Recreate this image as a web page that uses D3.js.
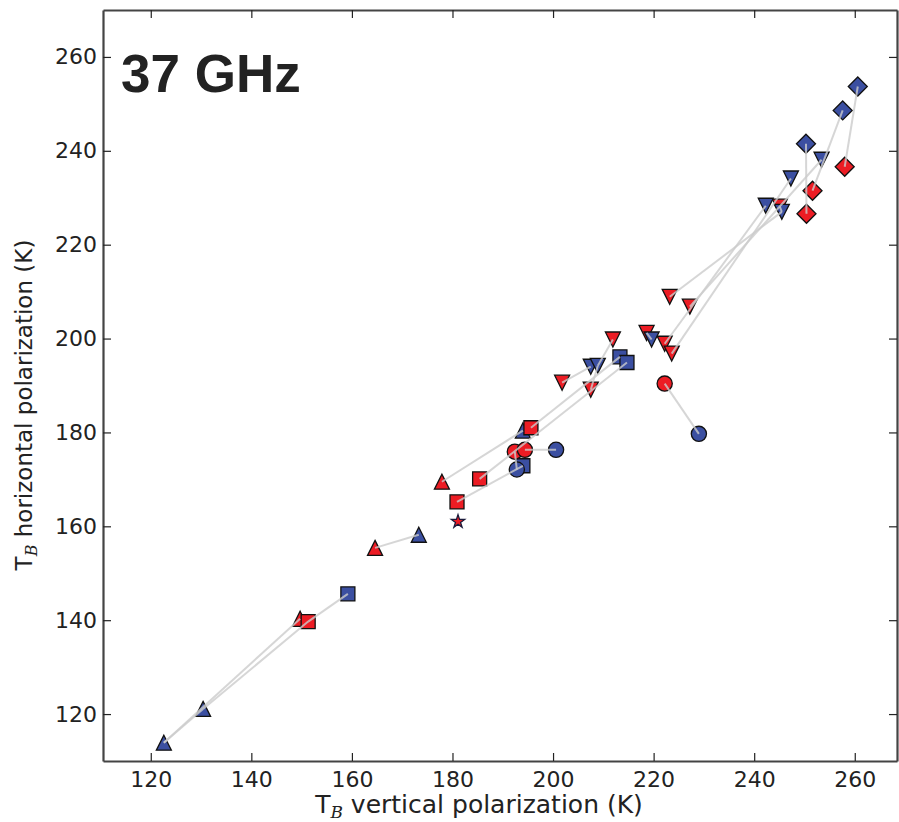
<!DOCTYPE html>
<html>
<head>
<meta charset="utf-8">
<script src="https://cdn.jsdelivr.net/npm/d3@7"></script>
<style>
  body { margin: 0; background: #fff; }
  svg { display: block; }
  .tick text { font-family: "DejaVu Sans", sans-serif; font-size: 22px; fill: #222; }
  .lab { font-family: "DejaVu Sans", sans-serif; fill: #222; }
</style>
</head>
<body>
<svg id="chart" width="899" height="822"></svg>
<script>
// brightness temperatures (K): [vertical, horizontal]
var upRed    = [[149.7,140.3],[164.6,155.4],[177.9,169.5]]
var upBlue   = [[122.6,113.9],[130.4,121.1],[173.3,158.2],[194.0,180.4]]
var downRed  = [[211.9,199.8],[201.8,190.6],[207.5,189.1],[218.6,201.2],[222.2,198.9],
                [223.6,196.8],[223.2,208.9],[227.2,206.8],[245.1,228.1]]
var downBlue = [[207.5,194.0],[208.9,194.2],[219.6,199.8],[242.3,228.3],[245.5,227.0],
                [247.3,234.1],[253.4,238.1]]
var sqRed    = [[151.3,139.7],[180.9,165.2],[185.4,170.1],[195.6,181.0]]
var sqBlue   = [[159.2,145.6],[194.0,172.9],[213.3,196.1],[214.7,194.9]]
var circRed  = [[192.4,175.9],[194.4,176.3],[222.2,190.4]]
var circBlue = [[192.8,172.1],[200.6,176.3],[229.0,179.7]]
var diaRed   = [[258.0,236.6],[251.6,231.5],[250.4,226.6]]
var diaBlue  = [[260.6,253.7],[257.6,248.6],[250.3,241.5]]
var starPts  = [[181.1,161.0]]

// grey connecting lines: [seriesA, indexA, seriesB, indexB]
var links = [
  ["upBlue",0,"upRed",0], ["upBlue",1,"sqRed",0], ["upBlue",0,"upBlue",1],
  ["sqRed",0,"sqBlue",0], ["upRed",1,"upBlue",2], ["upRed",2,"upBlue",3],
  ["sqRed",1,"sqBlue",1], ["sqRed",2,"sqBlue",3], ["sqRed",3,"sqBlue",2],
  ["circRed",0,"circBlue",0], ["circRed",1,"circBlue",1], ["circRed",2,"circBlue",2],
  ["downRed",0,"downBlue",1], ["downRed",1,"downBlue",0], ["downRed",2,"downBlue",1],
  ["downRed",3,"downBlue",2], ["downRed",4,"downBlue",3], ["downRed",5,"downBlue",5],
  ["downRed",6,"downBlue",4], ["downRed",7,"downBlue",6], ["downRed",8,"downBlue",4],
  ["diaBlue",0,"diaRed",0], ["diaBlue",1,"diaRed",1], ["diaBlue",2,"diaRed",2]
]

var xTicks = [120,140,160,180,200,220,240,260]
var yTicks = [120,140,160,180,200,220,240,260]

var RED = "#ec1c24", BLUE = "#3b4fa1"

var series = {
  upRed:   {pts: upRed,   shape: "up",   color: RED},
  upBlue:  {pts: upBlue,  shape: "up",   color: BLUE},
  downRed: {pts: downRed, shape: "down", color: RED},
  downBlue:{pts: downBlue,shape: "down", color: BLUE},
  sqBlue:  {pts: sqBlue,  shape: "sq",   color: BLUE},
  sqRed:   {pts: sqRed,   shape: "sq",   color: RED},
  circBlue:{pts: circBlue,shape: "circ", color: BLUE},
  circRed: {pts: circRed, shape: "circ", color: RED},
  diaRed:  {pts: diaRed,  shape: "dia",  color: RED},
  diaBlue: {pts: diaBlue, shape: "dia",  color: BLUE},
  star:    {pts: starPts, shape: "star", color: RED}
}

var svg = d3.select("#chart")
var x = d3.scaleLinear().domain([110.5, 268.4]).range([103, 897])
var y = d3.scaleLinear().domain([110, 270]).range([761, 10])

function shapePath(s) {
  if (s == "up") return "M0,-7.5L7.5,7.5L-7.5,7.5Z"
  if (s == "down") return "M0,7.5L7.5,-7.5L-7.5,-7.5Z"
  if (s == "sq") return "M-7,-7H7V7H-7Z"
  if (s == "dia") return "M0,-9.5L9.5,0L0,9.5L-9.5,0Z"
  if (s == "circ") return d3.symbol(d3.symbolCircle, Math.PI*7.6*7.6)()
  return d3.symbol(d3.symbolStar, 55)()
}

var marks = svg.append("g")
Object.keys(series).forEach(function(k){
  var s = series[k]
  marks.selectAll(null).data(s.pts).enter().append("path")
    .attr("d", shapePath(s.shape))
    .attr("transform", d => "translate(" + x(d[0]) + "," + y(d[1]) + ")")
    .attr("fill", s.color)
    .attr("stroke", k == "star" ? "#1a1a3a" : "#111")
    .attr("stroke-width", 1.3)
})

svg.append("g").selectAll("line").data(links).enter().append("line")
  .attr("x1", d => x(series[d[0]].pts[d[1]][0]))
  .attr("y1", d => y(series[d[0]].pts[d[1]][1]))
  .attr("x2", d => x(series[d[2]].pts[d[3]][0]))
  .attr("y2", d => y(series[d[2]].pts[d[3]][1]))
  .attr("stroke", "#cccccc")
  .attr("stroke-opacity", 0.8)
  .attr("stroke-width", 2)

// axes, ticks pointing inward
var gx = svg.append("g").attr("transform", "translate(0,761)")
  .call(d3.axisBottom(x).tickValues(xTicks).tickSize(-8).tickSizeOuter(0).tickPadding(10.5))
var gy = svg.append("g").attr("transform", "translate(103,0)")
  .call(d3.axisLeft(y).tickValues(yTicks).tickSize(-8).tickSizeOuter(0).tickPadding(6))
var gt = svg.append("g").attr("transform", "translate(0,10)")
  .call(d3.axisTop(x).tickValues(xTicks).tickSize(-8).tickSizeOuter(0).tickFormat(""))
var gr = svg.append("g").attr("transform", "translate(897,0)")
  .call(d3.axisRight(y).tickValues(yTicks).tickSize(-8).tickSizeOuter(0).tickFormat(""))

svg.selectAll(".domain").attr("stroke", "#444").attr("stroke-width", 2.2)
svg.selectAll(".tick line").attr("stroke", "#222").attr("stroke-width", 1.2)

// labels
var xl = svg.append("text").attr("class", "lab").attr("font-size", "25px")
  .attr("x", 479).attr("y", 813).attr("text-anchor", "middle")
xl.append("tspan").text("T")
xl.append("tspan").text("B").attr("font-style", "italic").attr("font-size", "17px").attr("dy", 5).attr("font-family", "DejaVu Serif")
xl.append("tspan").text(" vertical polarization (K)").attr("dy", -5)

var yl = svg.append("text").attr("class", "lab").attr("font-size", "23px")
  .attr("transform", "translate(32,405) rotate(-90)").attr("text-anchor", "middle")
yl.append("tspan").text("T")
yl.append("tspan").text("B").attr("font-style", "italic").attr("font-size", "16px").attr("dy", 5).attr("font-family", "DejaVu Serif")
yl.append("tspan").text(" horizontal polarization (K)").attr("dy", -5)

svg.append("text")
  .attr("x", 121).attr("y", 92)
  .attr("font-family", "Liberation Sans, Arial, sans-serif")
  .attr("font-weight", "bold").attr("font-size", "53px").attr("fill", "#222")
  .text("37 GHz")
</script>
</body>
</html>
